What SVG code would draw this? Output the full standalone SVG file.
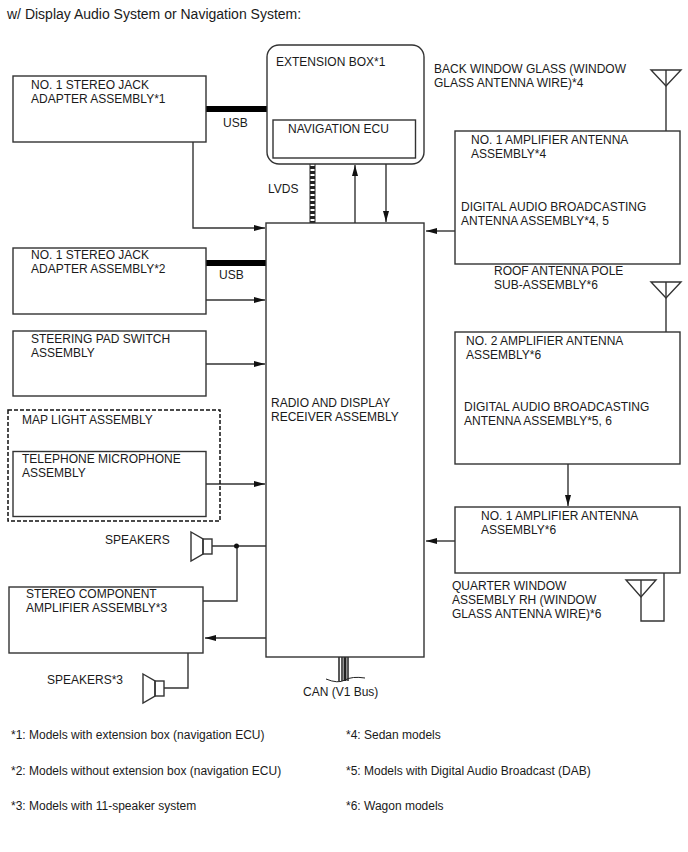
<svg xmlns="http://www.w3.org/2000/svg" width="688" height="852" viewBox="0 0 688 852">
<defs>
<style>
text{font-family:"Liberation Sans",Arial,sans-serif;font-size:12px;fill:#1a1a1a}
.fn{font-size:12px}
.t{font-size:14px}
.b{fill:#fff;stroke:#333;stroke-width:1.4}
.l{fill:none;stroke:#333;stroke-width:1.4}
.a{fill:none;stroke:#333;stroke-width:1.4;marker-end:url(#ah)}
.u{fill:none;stroke:#000;stroke-width:6}
</style>
<marker id="ah" viewBox="0 0 11 6" refX="11" refY="3" markerWidth="11" markerHeight="6" markerUnits="userSpaceOnUse" orient="auto"><path d="M0 0L11 3L0 6Z" fill="#111"/></marker>
</defs>
<text class="t" x="7" y="19">w/ Display Audio System or Navigation System:</text>
<g id="connectors">
<path class="u" d="M206 109H267"/>
<path class="u" d="M206 263H266"/>
<path d="M312.500 164V223" fill="none" stroke="#222" stroke-width="6"/>
<path d="M312.500 164V223" fill="none" stroke="#fff" stroke-width="4" stroke-dasharray="2 3"/>
<path class="a" d="M193 142V228H265"/>
<path class="a" d="M355 223V165"/>
<path class="a" d="M386 164V222"/>
<path class="a" d="M455 231H426"/>
<path class="a" d="M206 300H265"/>
<path class="a" d="M206 364H265"/>
<path class="a" d="M206 484H265"/>
<path class="a" d="M568 464V506"/>
<path class="a" d="M455 541H426"/>
<path class="l" d="M212 546H266"/>
<path class="l" d="M203 601H237V546"/>
<path class="a" d="M266 638H205"/>
<path class="l" d="M188 653V688H163"/>
<path class="l" d="M666 70V131"/>
<path class="l" d="M666 282V332"/>
<path class="l" d="M641 580V621H664V573"/>
<circle cx="236.500" cy="546" r="2.500" fill="#111"/>
<g fill="none" stroke="#222"><path stroke-width="1.500" d="M339 657V681M342 657V681M348 657V681"/><path stroke-width="3" d="M345 657V681"/><path stroke-width="1" d="M326 679Q338 684 345 680Q352 676 365 678"/></g>
</g>
<g id="stereo-jack-1"><rect class="b" x="13" y="76" width="193" height="66"/><text x="31" y="89">NO. 1 STEREO JACK</text><text x="31" y="103">ADAPTER ASSEMBLY*1</text></g>
<text x="223" y="127">USB</text>
<g id="extension-box"><rect class="b" x="267" y="45" width="157" height="119" rx="12"/><text x="276" y="66">EXTENSION BOX*1</text><rect class="b" x="273" y="120" width="142.500" height="38"/><text x="288" y="133">NAVIGATION ECU</text></g>
<text x="268" y="193">LVDS</text>
<text x="434" y="73">BACK WINDOW GLASS (WINDOW</text><text x="434" y="87">GLASS ANTENNA WIRE)*4</text>
<g id="antenna-1"><path class="l" d="M651 70H681L666 86Z"/></g>
<g id="amp-1"><rect class="b" x="455" y="131" width="225" height="133"/><text x="471" y="144">NO. 1 AMPLIFIER ANTENNA</text><text x="471" y="158">ASSEMBLY*4</text><text x="461" y="211">DIGITAL AUDIO BROADCASTING</text><text x="461" y="225">ANTENNA ASSEMBLY*4, 5</text></g>
<g id="radio"><rect class="b" x="266" y="223" width="158" height="434"/><text x="271" y="407">RADIO AND DISPLAY</text><text x="271" y="421">RECEIVER ASSEMBLY</text></g>
<g id="stereo-jack-2"><rect class="b" x="13" y="248" width="193" height="66"/><text x="31" y="259">NO. 1 STEREO JACK</text><text x="31" y="273">ADAPTER ASSEMBLY*2</text></g>
<text x="219" y="279">USB</text>
<text x="494" y="275">ROOF ANTENNA POLE</text><text x="494" y="289">SUB-ASSEMBLY*6</text>
<g id="antenna-2"><path class="l" d="M651 282H681L666 298Z"/></g>
<g id="amp-2"><rect class="b" x="455" y="332" width="225" height="132"/><text x="466" y="345">NO. 2 AMPLIFIER ANTENNA</text><text x="466" y="359">ASSEMBLY*6</text><text x="464" y="411">DIGITAL AUDIO BROADCASTING</text><text x="464" y="425">ANTENNA ASSEMBLY*5, 6</text></g>
<g id="steering"><rect class="b" x="13" y="331" width="193" height="65"/><text x="31" y="343">STEERING PAD SWITCH</text><text x="31" y="357">ASSEMBLY</text></g>
<g id="map-light"><rect x="8" y="410" width="212" height="111" fill="none" stroke="#111" stroke-width="1.500" stroke-dasharray="4 2"/><text x="22" y="424">MAP LIGHT ASSEMBLY</text></g>
<g id="microphone"><rect class="b" x="13" y="451.500" width="193" height="65"/><text x="22" y="463">TELEPHONE MICROPHONE</text><text x="22" y="477">ASSEMBLY</text></g>
<g id="amp-1b"><rect class="b" x="455" y="507" width="225" height="66"/><text x="481" y="520">NO. 1 AMPLIFIER ANTENNA</text><text x="481" y="534">ASSEMBLY*6</text></g>
<text x="452" y="590">QUARTER WINDOW</text><text x="452" y="604">ASSEMBLY RH (WINDOW</text><text x="452" y="618">GLASS ANTENNA WIRE)*6</text>
<g id="antenna-3"><path class="l" d="M626 580H656L641 597Z"/></g>
<text x="105" y="544">SPEAKERS</text>
<g id="speaker-1"><rect class="b" x="203" y="539" width="9" height="15"/><path class="l" d="M191 532L203 539V554L191 561Z"/></g>
<g id="stereo-comp"><rect class="b" x="9" y="587" width="194" height="66"/><text x="26" y="598">STEREO COMPONENT</text><text x="26" y="612">AMPLIFIER ASSEMBLY*3</text></g>
<text x="47" y="684">SPEAKERS*3</text>
<g id="speaker-2"><rect class="b" x="155" y="681" width="9" height="15"/><path class="l" d="M143 674L155 681V696L143 703Z"/></g>
<text x="303" y="696">CAN (V1 Bus)</text>
<text class="fn" x="11" y="739">*1: Models with extension box (navigation ECU)</text>
<text class="fn" x="11" y="775">*2: Models without extension box (navigation ECU)</text>
<text class="fn" x="11" y="810">*3: Models with 11-speaker system</text>
<text class="fn" x="346" y="739">*4: Sedan models</text>
<text class="fn" x="346" y="775">*5: Models with Digital Audio Broadcast (DAB)</text>
<text class="fn" x="346" y="810">*6: Wagon models</text>
</svg>
